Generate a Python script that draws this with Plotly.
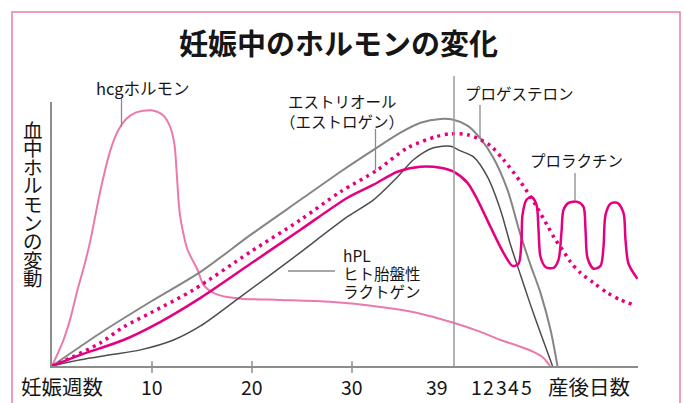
import plotly.graph_objects as go

# ---- data (x: drawing position in pregnancy weeks, postpartum days squeezed after week 39; y: relative level) ----
hcg_t = [0, 0.65, 1.15, 1.85, 2.55, 3.25, 3.85, 4.85, 5.85, 6.65, 7.35, 8.35, 9.95, 11.15, 11.85, 12.25,
         12.45, 12.65, 12.8, 13.1, 13.55, 14.55, 15.15, 16.15, 17.35, 19.15, 22.85, 27.85, 32.85, 36.55,
         40.15, 42.85, 44.85, 46.85, 48.15, 49.15, 49.8]
hcg_y = [0, 5.4, 10, 18.5, 29.3, 38.9, 48.5, 67.7, 83.1, 90.8, 94.7, 97.4, 98.3, 96.2, 91.6, 85,
         75.4, 63.9, 58, 51.6, 44.7, 37, 31.2, 28.1, 26.6, 25.8, 25.4, 24.7, 22.7, 20.4,
         16.6, 13.1, 10, 7.4, 5.4, 3.1, 0]

prog_t = [0, 4.85, 9.85, 14.85, 19.85, 24.85, 28.85, 32.15, 34.85, 36.85, 38.85, 40.15, 41.55, 42.85,
          44.15, 45.55, 46.85, 47.85, 48.85, 49.85, 50.55]
prog_y = [0, 12.7, 24.7, 36.2, 50.4, 63.9, 74.7, 83.1, 89.7, 93.5, 95, 94.7, 92.4, 87.4,
          80, 67.7, 50.4, 38.9, 28.1, 13.9, 0]

hpl_t = [0, 2.85, 5.85, 8.85, 12.15, 14.85, 18.85, 23.85, 29.55, 32.15, 34.55, 36.15, 38.15, 39.85,
         40.85, 42.15, 43.55, 44.85, 45.85, 46.85, 47.85, 48.85, 50.05]
hpl_y = [0, 2.4, 4.3, 6.2, 10, 15.4, 26.6, 40.8, 57.4, 63.9, 72.7, 79.3, 83.9, 84.5,
         82.7, 80.4, 72.7, 60, 46.6, 35, 23.5, 12.7, 0]

estriol_t = [0, 2.05, 4.85, 7.15, 9.85, 14.15, 19.85, 24.85, 28.85, 32.55, 35.55, 38.35, 39.85, 41.55,
             42.85, 43.85, 45.15, 46.85, 48.35, 49.55, 50.35, 51.05, 51.85, 52.85, 54.15, 55.55, 56.85, 58.15]
estriol_y = [0, 3.5, 8.9, 15, 20.4, 29.3, 43.9, 56.2, 67, 75.4, 83.9, 88.1, 89.3, 88.9,
             87, 84.7, 79.3, 70.8, 62, 53.9, 48.5, 44.7, 40, 35.8, 32, 28.1, 25.4, 23.5]

prl_t = [0, 2.85, 7.15, 10.85, 14.85, 19.85, 24.85, 29.55, 32.15, 34.55, 36.85, 38.85, 40.15, 41.55,
         42.55, 43.85, 45.15, 46.05, 46.65, 46.95, 47.05, 47.45, 47.95, 48.45, 48.65, 48.85, 49.35,
         50.15, 50.65, 50.95, 51.15, 51.65, 52.55, 53.15, 53.35, 53.55, 54.15, 54.85, 55.15, 55.35,
         55.85, 56.55, 57.15, 57.35, 57.65, 58.55]
prl_y = [0, 4.3, 10, 17, 26.2, 39.3, 52.4, 64.7, 69.7, 74.7, 76.6, 76.2, 74.7, 70.4,
         63.9, 53.5, 43.5, 38.5, 39.3, 48.5, 58.1, 63.9, 65, 62, 52.4, 42, 38.1,
         37.7, 40.8, 51.6, 60, 62.7, 63.1, 61.2, 52.4, 41.6, 37.4, 38.5, 45.8, 58.1,
         62.4, 62.7, 58.9, 48.5, 39.3, 33.5]

tick_pos = [10, 20, 30, 38.5, 42.4, 43.6, 44.9, 46.1, 47.4]
tick_text = ["10", "20", "30", "39", "1", "2", "3", "4", "5"]
week_label_pos, week_label = 1.0, "妊娠週数"
day_label_pos, day_label = 53.7, "産後日数"
major_ticks = [10, 20, 30]
week39 = 40.2

title_text = "妊娠中のホルモンの変化"
ylabel_text = "血中ホルモンの変動"

# ---- figure ----
PINK_LIGHT = "#ea7aab"
MAGENTA = "#e4007f"
GRAY = "#858585"
DARK = "#4d4d4d"
AX = "#8c8c8c"
JP = "Noto Sans CJK JP"
NUM = "Liberation Sans Narrow, Arial Narrow, " + JP

fig = go.Figure()
sp = dict(shape="spline", smoothing=0.8)
fig.add_trace(go.Scatter(x=hcg_t, y=hcg_y, mode="lines", line=dict(color=PINK_LIGHT, width=2, **sp), hoverinfo="skip"))
fig.add_trace(go.Scatter(x=prog_t, y=prog_y, mode="lines", line=dict(color=GRAY, width=2, **sp), hoverinfo="skip"))
fig.add_trace(go.Scatter(x=hpl_t, y=hpl_y, mode="lines", line=dict(color=DARK, width=1.5, **sp), hoverinfo="skip"))
fig.add_trace(go.Scatter(x=estriol_t, y=estriol_y, mode="lines", line=dict(color=MAGENTA, width=3.5, dash="3px,4.5px", **sp), hoverinfo="skip"))
fig.add_trace(go.Scatter(x=prl_t, y=prl_y, mode="lines", line=dict(color=MAGENTA, width=2.5, **sp), hoverinfo="skip"))

L, R, T, B = 52, 46, 102, 37
W, H = 684, 403
pw, ph = W - L - R, H - T - B


def px(xp):
    return (xp - L) / pw


def py(yp):
    return (H - B - yp) / ph


shapes = []
shapes.append(dict(type="rect", xref="paper", yref="paper", x0=px(12), x1=px(680), y0=py(415), y1=py(12),
                   line=dict(color="#f07aa8", width=1.5), fillcolor="rgba(0,0,0,0)", layer="below"))
shapes.append(dict(type="line", xref="x", yref="paper", x0=week39, x1=week39, y0=0, y1=py(76),
                   line=dict(color="#9a9a9a", width=1.5)))
for t in major_ticks:
    shapes.append(dict(type="line", xref="x", yref="paper", x0=t, x1=t, y0=py(373), y1=py(361),
                       line=dict(color=AX, width=1.5)))
lead = dict(color="#8a8a8a", width=1.3)
shapes.append(dict(type="line", xref="paper", yref="paper", x0=px(121.5), x1=px(121.5), y0=py(97), y1=py(127), line=lead))
shapes.append(dict(type="line", xref="paper", yref="paper", x0=px(375.5), x1=px(375.5), y0=py(129), y1=py(170), line=lead))
shapes.append(dict(type="line", xref="paper", yref="paper", x0=px(480), x1=px(480), y0=py(105), y1=py(138), line=lead))
shapes.append(dict(type="line", xref="paper", yref="paper", x0=px(575), x1=px(575), y0=py(173), y1=py(200), line=lead))
shapes.append(dict(type="line", xref="paper", yref="paper", x0=px(288), x1=px(335), y0=py(271), y1=py(271), line=lead))

ann = []
txt = "#161616"
ann.append(dict(text="<b>" + title_text + "</b>", x=px(338), y=py(42), xref="paper", yref="paper",
                showarrow=False, font=dict(family=JP, size=29, color=txt), xanchor="center", yanchor="middle"))
for i, ch in enumerate(ylabel_text):
    ann.append(dict(text=ch, x=px(33), y=py(129 + i * 18.6), xref="paper", yref="paper", showarrow=False,
                    font=dict(family=JP, size=19.5, color=txt), xanchor="center", yanchor="middle"))


def label(text, x, y, size=15.5, anchor="center", family=JP):
    ann.append(dict(text=text, x=px(x), y=py(y), xref="paper", yref="paper", showarrow=False,
                    font=dict(family=family, size=size, color=txt), xanchor=anchor, yanchor="middle"))


label("hcgホルモン", 143, 88, size=16.5)
label("エストリオール", 342, 101.5)
label("（エストロゲン）", 342, 120.5)
label("プロゲステロン", 519, 93)
label("プロラクチン", 576, 160)
label("hPL", 341, 255, anchor="left")
label("ヒト胎盤性", 341, 273, anchor="left")
label("ラクトゲン", 341, 290.5, anchor="left")

for p, s in zip(tick_pos, tick_text):
    ann.append(dict(text=s, x=p, y=py(386), xref="x", yref="paper", showarrow=False,
                    font=dict(family=NUM, size=19.5, color=txt), xanchor="center", yanchor="middle"))
for p, s in [(week_label_pos, week_label), (day_label_pos, day_label)]:
    ann.append(dict(text=s, x=p, y=py(386), xref="x", yref="paper", showarrow=False,
                    font=dict(family=JP, size=20.5, color=txt), xanchor="center", yanchor="middle"))

fig.update_layout(
    width=W, height=H, margin=dict(l=L, r=R, t=T, b=B, autoexpand=False),
    paper_bgcolor="white", plot_bgcolor="white", showlegend=False,
    shapes=shapes, annotations=ann,
    xaxis=dict(range=[0, 58.6], showline=True, linecolor=AX, linewidth=2, showgrid=False, zeroline=False,
               ticks="", showticklabels=False, automargin=False, fixedrange=True),
    yaxis=dict(range=[0, 101.5], showline=True, linecolor=AX, linewidth=2, showgrid=False, zeroline=False,
               showticklabels=False, ticks="", automargin=False, fixedrange=True),
)

fig.write_html("out.html", config={"displayModeBar": False},
               post_script="document.body.style.margin='0';document.body.style.overflow='hidden';")
